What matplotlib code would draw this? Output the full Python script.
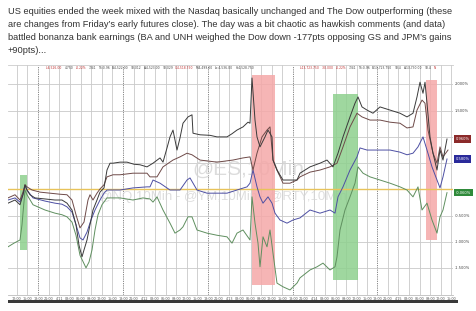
import matplotlib
matplotlib.use("Agg")
import matplotlib.pyplot as plt
from matplotlib.patches import Rectangle

# ---------------- data ----------------
tweet_lines = [
    "US equities ended the week mixed with the Nasdaq basically unchanged and The Dow outperforming (these",
    "are changes from Friday\u2019s early futures close). The day was a bit chaotic as hawkish comments (and data)",
    "battled bonanza bank earnings (BA and UNH weighed the Dow down -177pts opposing GS and JPM\u2019s gains",
    "+90pts)...",
]

# bar index (10-min bars, compressed) and % change
black_t = [0, 7, 12, 15, 17, 19, 22, 27, 37, 47, 54, 59, 64, 68, 71, 74, 76, 79, 82, 85, 89, 92, 96, 99,
           102, 105, 112, 119, 126, 132, 139, 145, 152, 155, 159, 162, 165, 169, 172, 175, 180, 184, 185,
           192, 202, 209, 219, 224, 229, 235, 240, 242, 244, 247, 249, 252, 257, 260, 264, 265, 269, 275,
           282, 289, 292, 297, 302, 312, 319, 325, 330, 335, 342, 347, 350, 354, 359, 365, 372, 382, 392,
           399, 405, 409, 412, 415, 417, 419, 422, 425, 429, 432, 435, 439]
black_v = [-0.26, -0.20, -0.29, -0.10, 0.09, -0.01, -0.10, -0.16, -0.18, -0.20, -0.20, -0.26, -0.39, -0.67,
           -1.06, -1.28, -1.15, -0.96, -0.67, -0.39, -0.20, -0.05, 0.03, 0.37, 0.50, 0.50, 0.52, 0.52, 0.48,
           0.47, 0.43, 0.50, 0.60, 0.52, 0.79, 1.00, 1.13, 0.75, 0.98, 1.26, 1.38, 1.42, 1.07, 1.04, 1.03,
           1.00, 1.00, 1.06, 1.13, 1.19, 1.28, 1.26, 2.12, 1.32, 1.00, 0.81, 1.00, 1.13, 1.00, 0.56, 0.37,
           0.18, 0.18, 0.18, 0.31, 0.37, 0.43, 0.50, 0.56, 0.43, 0.69, 1.00, 1.38, 1.64, 1.76, 1.57, 1.51,
           1.45, 1.57, 1.51, 1.45, 1.38, 1.45, 1.76, 2.04, 1.83, 2.04, 1.64, 1.00, 0.69, 0.37, 0.75, 0.56,
           0.96]

red_t = [0, 7, 12, 15, 17, 19, 24, 32, 42, 52, 59, 64, 68, 72, 76, 80, 82, 85, 89, 92, 96, 99, 105, 112,
         125, 139, 142, 149, 155, 165, 172, 179, 184, 192, 209, 225, 235, 242, 245, 249, 254, 259, 262, 265,
         269, 275, 282, 289, 292, 302, 312, 322, 329, 335, 342, 349, 354, 362, 372, 382, 392, 399, 405, 409,
         414, 417, 420, 425, 429, 432, 435, 440]
red_v = [-0.16, -0.10, -0.20, -0.05, 0.09, 0.05, -0.01, -0.05, -0.07, -0.09, -0.10, -0.20, -0.48, -0.73,
         -0.62, -0.20, -0.10, -0.20, -0.07, 0.01, 0.09, 0.24, 0.28, 0.28, 0.31, 0.31, 0.24, 0.24, 0.43, 0.56,
         0.62, 0.69, 0.66, 0.56, 0.52, 0.56, 0.60, 0.62, 0.37, 0.69, 1.00, 1.13, 1.19, 0.56, 0.37, 0.12, 0.12,
         0.18, 0.24, 0.33, 0.37, 0.43, 0.50, 0.81, 1.19, 1.45, 1.38, 1.32, 1.32, 1.28, 1.26, 1.17, 1.19, 1.51,
         1.70, 1.64, 1.13, 0.69, 0.50, 0.81, 0.62, 0.75]

blue_t = [0, 7, 12, 15, 17, 19, 25, 37, 47, 54, 59, 64, 68, 72, 75, 79, 83, 87, 92, 96, 99, 112, 125, 139,
          142, 145, 152, 162, 172, 179, 182, 189, 199, 209, 219, 229, 239, 242, 245, 249, 252, 255, 260, 264,
          267, 272, 279, 285, 292, 302, 312, 322, 327, 330, 335, 342, 349, 352, 359, 369, 382, 392, 399, 405,
          410, 415, 419, 424, 429, 432, 435, 439]
blue_v = [-0.20, -0.16, -0.24, -0.09, 0.07, -0.01, -0.16, -0.22, -0.26, -0.28, -0.33, -0.43, -0.67, -0.92,
          -0.96, -0.81, -0.58, -0.39, -0.20, -0.07, -0.01, -0.01, 0.03, 0.05, 0.05, 0.18, 0.12, -0.01, -0.01,
          0.18, 0.22, -0.01, -0.07, -0.07, -0.07, -0.01, 0.05, 0.12, 0.37, 0.05, -0.14, -0.26, -0.14, -0.26,
          -0.45, -0.58, -0.64, -0.58, -0.54, -0.39, -0.45, -0.39, -0.45, -0.14, 0.05, 0.37, 0.62, 0.79, 0.75,
          0.75, 0.75, 0.71, 0.66, 0.69, 0.81, 1.00, 0.75, 0.43, 0.18, 0.03, 0.24, 0.58]

green_t = [0, 6, 12, 14, 17, 19, 25, 37, 47, 54, 59, 64, 68, 72, 78, 81, 84, 87, 90, 94, 99, 112, 125, 135,
           142, 145, 149, 155, 162, 167, 172, 175, 180, 184, 189, 199, 209, 219, 224, 229, 235, 242, 244, 247,
           250, 252, 255, 259, 262, 265, 269, 275, 282, 289, 292, 302, 309, 315, 322, 327, 329, 332, 337, 342,
           347, 350, 355, 362, 372, 382, 392, 399, 405, 410, 414, 419, 424, 429, 432, 435, 439]
green_v = [-1.09, -1.02, -0.96, -0.67, -0.01, -0.10, -0.29, -0.39, -0.45, -0.48, -0.52, -0.62, -0.87, -1.25,
           -1.49, -1.38, -1.15, -0.77, -0.48, -0.29, -0.16, -0.16, -0.20, -0.16, -0.18, -0.24, -0.14, -0.39,
           -0.64, -0.83, -0.77, -0.71, -0.52, -0.52, -0.77, -0.83, -0.87, -0.90, -1.02, -0.83, -0.77, -0.96,
           -0.14, -0.64, -1.02, -1.47, -0.90, -1.09, -0.77, -1.21, -1.78, -1.85, -1.91, -1.78, -1.68, -1.53,
           -1.47, -1.40, -1.53, -1.47, -1.28, -0.77, -0.39, -0.14, 0.12, 0.43, 0.31, 0.24, 0.18, 0.12, 0.05,
           -0.01, -0.14, 0.05, -0.39, -0.26, -0.58, -0.83, -0.52, -0.39, -0.06]

# highlighted windows
shade_start = [12, 244, 325, 418]
shade_end = [19, 267, 350, 429]
shade_top = [0.28, 2.18, 1.82, 2.08]
shade_bottom = [-1.15, -1.82, -1.72, -0.96]
shade_kind = ["up", "down", "up", "down"]

y_levels = [-1.5, -1.0, -0.5, 0.0, 0.5, 1.0, 1.5, 2.0]
y_labels = ["-1.500%", "-1.000%", "-0.500%", "0.000%", "0.500%", "1.000%", "1.500%", "2.000%"]

last_values = [0.96, 0.58, -0.06]
last_labels = ["0.960%", "0.580%", "-0.060%"]

session_starts = [-55, 30, 115, 200, 285, 369]
session_tick_labels = [
    ["18:00", "21:00", "4/10", "03:00", "06:00", "09:00", "12:00", "15:00"],
    ["18:00", "21:00", "4/11", "03:00", "06:00", "09:00", "12:00", "15:00"],
    ["18:00", "21:00", "4/12", "03:00", "06:00", "09:00", "12:00", "15:00"],
    ["18:00", "21:00", "4/13", "03:00", "06:00", "09:00", "12:00", "15:00"],
    ["18:00", "21:00", "4/14", "03:00", "06:00", "09:00", "12:00", "15:00"],
    ["18:00", "21:00", "4/15", "03:00", "06:00", "09:00", "12:00", "15:00"],
]
session_len = 85

header_group1 = [
    ("L:4,526.00", "#c03030"), ("4,750", "#444"), ("-0.22%", "#c03030"), ("7341", "#444"),
    ("TS:0.96", "#444"), ("B:4,522.00", "#444"), ("93.012", "#444"), ("A:4,523.00", "#444"),
    ("93.029", "#444"), ("C:4,518.750", "#c03030"), ("M:4,499.00", "#444"), ("Lo:4,536.00", "#444"),
    ("H:4,528.750", "#444"),
]
header_group2 = [
    ("L:13,723.750", "#c03030"), ("-30.000", "#c03030"), ("-0.22%", "#c03030"), ("7341", "#444"),
    ("TS:0.96", "#444"), ("B:13,723.750", "#444"), ("93.4", "#444"), ("A:13,730.00", "#444"),
    ("93.4", "#444"), ("N", "#c03030"),
]

# ---------------- figure ----------------
W, H = 477, 311
fig = plt.figure(figsize=(W / 100, H / 100), dpi=100)
fig.patch.set_facecolor("white")

for i, line in enumerate(tweet_lines):
    fig.text(8 / W, 1 - (11.5 + 12.9 * i) / H, line, fontsize=6.7, color="#333333",
             family="Liberation Sans", va="center", ha="left")

ax = fig.add_axes([8 / W, 16 / H, 445 / W, 230 / H])
ax.set_xlim(0, 445)
ax.set_ylim(-2.006, 2.367)
for s in ax.spines.values():
    s.set_visible(False)
ax.spines["bottom"].set_visible(True)
ax.spines["bottom"].set_color("#bbbbbb")
ax.spines["bottom"].set_linewidth(0.6)
ax.spines["top"].set_visible(True)
ax.spines["top"].set_color("#cccccc")
ax.spines["top"].set_linewidth(0.6)
ax.set_yticks([])

# vertical grid / ticks
ticks, tlabels = [], []
for s0, labs in zip(session_starts, session_tick_labels):
    for k, lab in enumerate(labs):
        t = s0 + k * session_len / len(labs)
        if 1 < t < 445:
            ticks.append(t)
            tlabels.append(lab)
            if k == 0:
                ax.axvline(t, color="#777777", lw=0.6, ls=(0, (1.5, 1.2)), zorder=1)
            else:
                ax.axvline(t, color="#c9c9c9", lw=0.6, zorder=1)
ax.set_xticks(ticks)
ax.set_xticklabels(tlabels, fontsize=2.4, color="#555555")
ax.tick_params(axis="x", length=0, pad=1.2)

for lv in y_levels:
    if lv != 0:
        ax.axhline(lv, color="#c9c9c9", lw=0.6, zorder=1)

# watermark
ax.text(240, 0.38, "@ES,10Min", fontsize=15, color="#d4d4d4", ha="center", va="center",
        family="Liberation Sans", zorder=1.5, alpha=0.8)
ax.text(215, -0.14, "@NQ,10Min - @YM,10Min - @RTY,10Min", fontsize=9.5, color="#d6d6d6",
        ha="center", va="center", family="Liberation Sans", zorder=1.5, alpha=0.8)

# shaded windows
for a, b, top, bot, kind in zip(shade_start, shade_end, shade_top, shade_bottom, shade_kind):
    col = "#8ed08e" if kind == "up" else "#f5a8a8"
    ax.add_patch(Rectangle((a, bot), b - a, top - bot, facecolor=col, edgecolor="none",
                           alpha=0.85, zorder=2))

ax.axhline(0, color="#e8c35a", lw=1.0, zorder=3)

ax.plot(green_t, green_v, color="#5f8f5f", lw=0.7, zorder=4)
ax.plot(blue_t, blue_v, color="#4d4fa3", lw=0.7, zorder=4)
ax.plot(red_t, red_v, color="#6e4a48", lw=0.7, zorder=4)
ax.plot(black_t, black_v, color="#3a3a3a", lw=0.7, zorder=4)

# right axis labels (those hidden behind last-value boxes are skipped, as in the source)
for lv, lab in zip(y_levels, y_labels):
    if any(abs(lv - v) < 0.15 for v in last_values):
        continue
    ax.text(1.004, (lv + 2.006) / 4.373, lab, transform=ax.transAxes, fontsize=2.6,
            color="#444444", va="center", ha="left")
for val, lab, col in zip(last_values, last_labels, ["#8b2a2a", "#2a2a9a", "#2f8a3a"]):
    ax.text(1.006, (val + 2.006) / 4.373, lab, transform=ax.transAxes, fontsize=2.6,
            color="white", va="center", ha="left", zorder=6,
            bbox=dict(boxstyle="square,pad=0.5", facecolor=col, edgecolor="none"))

# header readouts
for group, x0 in ((header_group1, 0.085), (header_group2, 0.655)):
    hx = x0
    for txt, col in group:
        ax.text(hx, 0.985, txt, transform=ax.transAxes, fontsize=2.2, color=col,
                va="center", ha="left", zorder=6)
        hx += 0.006 + 0.0037 * len(txt)

# bottom scroll bar
fig.patches.append(Rectangle((8 / W, 1 - 302.5 / H), 450 / W, 2.2 / H, transform=fig.transFigure,
                             facecolor="#3a3a3a", edgecolor="none"))

fig.savefig("out.png", dpi=100, facecolor="white")
